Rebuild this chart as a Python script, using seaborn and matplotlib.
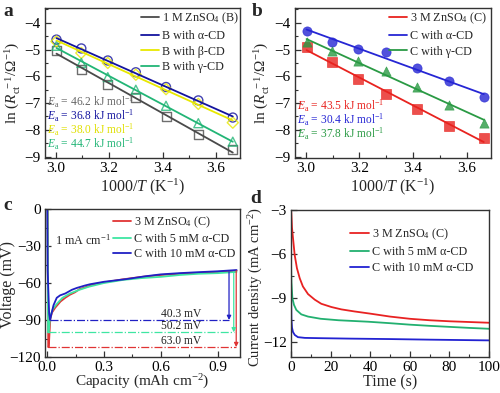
import numpy as np
import pandas as pd
import matplotlib
matplotlib.use("Agg")
import matplotlib.pyplot as plt
from matplotlib.ticker import AutoMinorLocator, FormatStrFormatter
import seaborn as sns

# ---------------- data ----------------
inv_T = [3.003, 3.096, 3.195, 3.300, 3.413, 3.534, 3.663]

# panel a
a_labels = ["1 M ZnSO$_4$ (B)", "B with α-CD", "B with β-CD", "B with γ-CD"]
a_black = [-5.04, -5.73, -6.31, -6.78, -7.50, -8.19, -8.75]
a_alpha = [-4.63, -4.96, -5.41, -5.85, -6.40, -6.90, -7.54]
a_beta = [-4.70, -5.13, -5.50, -5.94, -6.48, -7.03, -7.73]
a_gamma = [-4.86, -5.50, -6.03, -6.50, -7.10, -7.75, -8.44]
a_Ea = ["46.2", "36.8", "38.0", "44.7"]

# panel b
b_labels = ["3 M ZnSO$_4$ (C)", "C with α-CD", "C with γ-CD"]
b_red = [-4.91, -5.48, -6.10, -6.65, -7.21, -7.85, -8.31]
b_alpha = [-4.29, -4.71, -4.98, -5.10, -5.69, -6.19, -6.79]
b_gamma = [-4.73, -5.06, -5.44, -5.81, -6.40, -7.06, -7.73]
b_Ea = ["43.5", "30.4", "37.8"]

# panel c
c_labels = ["3 M ZnSO$_4$ (C)", "C with 5 mM α-CD", "C with 10 mM α-CD"]
c_red_x = [0.003, 0.004, 0.005, 0.008, 0.012, 0.016, 0.025, 0.042, 0.07, 0.095, 0.12, 0.147, 0.17,
           0.19, 0.25, 0.30, 0.40, 0.50, 0.60, 0.70, 0.80, 0.90, 1.0]
c_red_y = [0, -60, -112, -112, -100, -89, -84, -80, -75, -72, -69.5, -67.5, -65,
           -64, -61, -59.5, -57, -55, -53.5, -52.5, -51.8, -51, -50]
c_green_x = [0.002, 0.004, 0.008, 0.012, 0.018, 0.03, 0.05, 0.08, 0.12, 0.17, 0.22, 0.30, 0.40,
             0.50, 0.60, 0.70, 0.80, 0.90, 1.0]
c_green_y = [0, -100, -100, -92, -86, -81, -77, -72, -68.5, -65.5, -63, -60, -57.5,
             -56, -55, -53.5, -52.5, -52, -51]
c_blue_x = [0.0, 0.002, 0.01, 0.015, 0.022, 0.033, 0.05, 0.068, 0.095, 0.13, 0.156, 0.20, 0.226,
            0.30, 0.42, 0.52, 0.60, 0.70, 0.80, 0.90, 1.0]
c_blue_y = [0, -50, -85, -90, -85, -78, -72, -70, -68.5, -65.5, -64, -62, -61,
            -59, -56.8, -54.5, -53, -52, -51.2, -50.5, -49.5]
c_min = [-112, -100, -90]
c_arrow_x = [0.998, 0.985, 0.96]
c_arrow_top = [-50, -51, -51]
c_eta = ["63.0 mV", "50.2 mV", "40.3 mV"]

# panel d
d_labels = ["3 M ZnSO$_4$ (C)", "C with 5 mM α-CD", "C with 10 mM α-CD"]
d_red_t = [0.05, 0.2, 0.5, 1, 1.85, 3, 4.4, 6, 8.6, 12, 15.3, 20.4, 25.4, 32, 40, 50, 60, 70, 80, 90, 100]
d_red_y = [-3.0, -3.3, -4.2, -4.9, -6.05, -6.96, -7.64, -8.2, -8.72, -9.1, -9.38, -9.6, -9.76, -9.9,
           -10.05, -10.25, -10.4, -10.5, -10.57, -10.62, -10.67]
d_green_t = [0.05, 0.2, 0.7, 1.5, 2.7, 5.2, 8.6, 15, 24, 39, 50, 60, 70, 80, 90, 100]
d_green_y = [-6.85, -7.9, -9.0, -9.45, -9.8, -10.1, -10.25, -10.4, -10.5, -10.6, -10.7, -10.8,
             -10.88, -10.95, -11.02, -11.08]
d_blue_t = [0.05, 0.2, 0.5, 1, 1.9, 3.5, 7, 15, 30, 50, 70, 100]
d_blue_y = [-8.8, -10.4, -11.0, -11.3, -11.5, -11.65, -11.7, -11.72, -11.75, -11.78, -11.82, -11.87]

# ---------------- style ----------------
sns.set_theme(style="ticks")
plt.rcParams["font.family"] = ["Liberation Serif", "DejaVu Serif"]
plt.rcParams["mathtext.fontset"] = "custom"
plt.rcParams["mathtext.rm"] = "Liberation Serif"
plt.rcParams["mathtext.it"] = "Liberation Serif:italic"
plt.rcParams["mathtext.bf"] = "Liberation Serif:bold"
plt.rcParams["axes.edgecolor"] = "#333333"
plt.rcParams["axes.linewidth"] = 1.0

fig = plt.figure(figsize=(5.0, 3.93), dpi=100)
W, H = 500.0, 393.0


def add_ax(l, r, t, b):
    return fig.add_axes([l / W, 1 - b / H, (r - l) / W, (b - t) / H])


ax_a = add_ax(45, 240, 8, 158)
ax_b = add_ax(295, 491, 8, 158)
ax_c = add_ax(45, 240, 209, 357)
ax_d = add_ax(291, 489, 210, 357)

TICK = 11
LAB = 11.5
SMALL = 8.7
EA = 8.3
EA_STEP = 0.094


def style_ax(ax):
    ax.tick_params(which="both", direction="in", labelsize=TICK, colors="#333333",
                   labelcolor="black", pad=3)
    ax.tick_params(which="major", length=4, width=0.9)
    ax.tick_params(which="minor", length=2, width=0.8)
    ax.xaxis.set_minor_locator(AutoMinorLocator(2))
    ax.yaxis.set_minor_locator(AutoMinorLocator(2))
    for s in ax.spines.values():
        s.set_visible(True)


# ---------------- panel a ----------------
a_cols = ["#4a4a4a", "#14149e", "#e8e800", "#22b576"]
a_marks = ["s", "o", "D", "^"]
a_series = [a_black, a_alpha, a_beta, a_gamma]
for ys, c, m, lab in zip(a_series, a_cols, a_marks, a_labels):
    sns.regplot(x=inv_T, y=ys, ax=ax_a, ci=None, marker=m, color=c,
                scatter_kws=dict(s=42 if m != "D" else 32, facecolors="none", edgecolors=c, linewidths=1.0),
                line_kws=dict(lw=1.3, label=lab))
ax_a.set_xlim(2.96, 3.69)
ax_a.set_ylim(-9.05, -3.45)
ax_a.set_xticks([3.0, 3.2, 3.4, 3.6])
ax_a.set_yticks([-4, -5, -6, -7, -8, -9])
ax_a.xaxis.set_major_formatter(FormatStrFormatter("%.1f"))
ax_a.set_xlabel(r"1000/$T$ (K$^{-1}$)", fontsize=LAB, labelpad=1)
ax_a.set_ylabel(r"ln ($R_{\rm ct}^{\ -1}$/$\Omega^{-1}$)", fontsize=11)
ax_a.yaxis.set_label_coords(-0.12, 0.5)
style_ax(ax_a)
ax_a.legend(loc="upper left", bbox_to_anchor=(0.49, 0.98), frameon=False, fontsize=SMALL,
            handlelength=1.5, handletextpad=0.25, labelspacing=0.3, borderpad=0, borderaxespad=0)
a_txt_cols = ["#666666", "#14149e", "#e0e000", "#22b576"]
for i, (e, c) in enumerate(zip(a_Ea, a_txt_cols)):
    ax_a.text(0.01, 0.375 - i * EA_STEP, r"$E_{\rm a}$ = " + e + r" kJ mol$^{-1}$", color=c,
              fontsize=EA, transform=ax_a.transAxes, va="center", ha="left")

# ---------------- panel b ----------------
b_cols = ["#e8231f", "#2626d4", "#2a9a44"]
b_marks = ["s", "o", "^"]
b_series = [b_red, b_alpha, b_gamma]
for ys, c, m, lab in zip(b_series, b_cols, b_marks, b_labels):
    sns.regplot(x=inv_T, y=ys, ax=ax_b, ci=None, marker=m, color=c,
                scatter_kws=dict(s=44, edgecolors=c, linewidths=0.5),
                line_kws=dict(lw=1.3, label=lab))
ax_b.set_xlim(2.96, 3.69)
ax_b.set_ylim(-9.05, -3.45)
ax_b.set_xticks([3.0, 3.2, 3.4, 3.6])
ax_b.set_yticks([-4, -5, -6, -7, -8, -9])
ax_b.xaxis.set_major_formatter(FormatStrFormatter("%.1f"))
ax_b.set_xlabel(r"1000/$T$ (K$^{-1}$)", fontsize=LAB, labelpad=1)
ax_b.set_ylabel(r"ln ($R_{\rm ct}^{\ -1}$/$\Omega^{-1}$)", fontsize=11)
ax_b.yaxis.set_label_coords(-0.12, 0.5)
style_ax(ax_b)
ax_b.legend(loc="upper left", bbox_to_anchor=(0.48, 0.98), frameon=False, fontsize=SMALL,
            handlelength=1.5, handletextpad=0.25, labelspacing=0.3, borderpad=0, borderaxespad=0)
for i, (e, c) in enumerate(zip(b_Ea, b_cols)):
    ax_b.text(0.01, 0.35 - i * EA_STEP, r"$E_{\rm a}$ = " + e + r" kJ mol$^{-1}$", color=c,
              fontsize=EA, transform=ax_b.transAxes, va="center", ha="left")

# ---------------- panel c ----------------
c_cols = ["#e03434", "#3ee6a2", "#2020c4"]
c_xs = [c_red_x, c_green_x, c_blue_x]
c_ys = [c_red_y, c_green_y, c_blue_y]
for xs, ys, c, lab in zip(c_xs, c_ys, c_cols, c_labels):
    sns.lineplot(x=xs, y=ys, ax=ax_c, color=c, lw=1.3, sort=False, estimator=None, label=lab)
c_start = [0.005, 0.005, 0.015]
for mn, st, ax_x, top, c, txt in zip(c_min, c_start, c_arrow_x, c_arrow_top, c_cols, c_eta):
    ax_c.hlines(mn, st, ax_x, colors=c, linestyles="-.", lw=0.9)
    ax_c.annotate("", xy=(ax_x, mn), xytext=(ax_x, top),
                  arrowprops=dict(arrowstyle="-|>", color=c, lw=0.9, mutation_scale=6,
                                  shrinkA=0, shrinkB=0))
    ax_c.text(0.705, mn + 4.8, txt, fontsize=8.3, ha="center", va="center", color="#222222")
ax_c.set_xlim(-0.012, 1.018)
ax_c.set_ylim(-120, 0)
ax_c.set_xticks([0.0, 0.3, 0.6, 0.9])
ax_c.set_yticks([0, -30, -60, -90, -120])
ax_c.xaxis.set_major_formatter(FormatStrFormatter("%.1f"))
ax_c.set_xlabel(r"Capacity (mAh cm$^{-2}$)", fontsize=11, labelpad=-1)
ax_c.set_ylabel("Voltage (mV)", fontsize=LAB)
ax_c.yaxis.set_label_coords(-0.148, 0.49)
style_ax(ax_c)
ax_c.legend(loc="upper left", bbox_to_anchor=(0.35, 0.96), frameon=False, fontsize=SMALL,
            handlelength=1.5, handletextpad=0.25, labelspacing=0.25, borderpad=0, borderaxespad=0)
ax_c.text(0.05, 0.79, r"1 mA cm$^{-1}$", fontsize=SMALL, transform=ax_c.transAxes,
          ha="left", va="center")

# ---------------- panel d ----------------
d_cols = ["#e82222", "#22b070", "#2222d2"]
d_ts = [d_red_t, d_green_t, d_blue_t]
d_ys = [d_red_y, d_green_y, d_blue_y]
for xs, ys, c, lab in zip(d_ts, d_ys, d_cols, d_labels):
    sns.lineplot(x=xs, y=ys, ax=ax_d, color=c, lw=1.3, sort=False, estimator=None, label=lab)
ax_d.set_xlim(0, 100)
ax_d.set_ylim(-13, -3)
ax_d.set_xticks([0, 20, 40, 60, 80, 100])
ax_d.set_yticks([-3, -6, -9, -12])
ax_d.set_xlabel("Time (s)", fontsize=LAB, labelpad=0)
ax_d.set_ylabel(r"Current density (mA cm$^{-2}$)", fontsize=10.5)
ax_d.yaxis.set_label_coords(-0.13, 0.48)
style_ax(ax_d)
ax_d.legend(loc="upper left", bbox_to_anchor=(0.30, 0.89), frameon=False, fontsize=SMALL,
            handlelength=1.5, handletextpad=0.25, labelspacing=0.35, borderpad=0, borderaxespad=0)

# panel letters
for lbl, (x, y) in zip("abcd", [(3, 16), (252, 16), (3, 210), (250, 203)]):
    fig.text(x / W, 1 - y / H, lbl, fontsize=14, fontweight="bold", ha="left", va="baseline")

fig.savefig("out.png", dpi=100)
